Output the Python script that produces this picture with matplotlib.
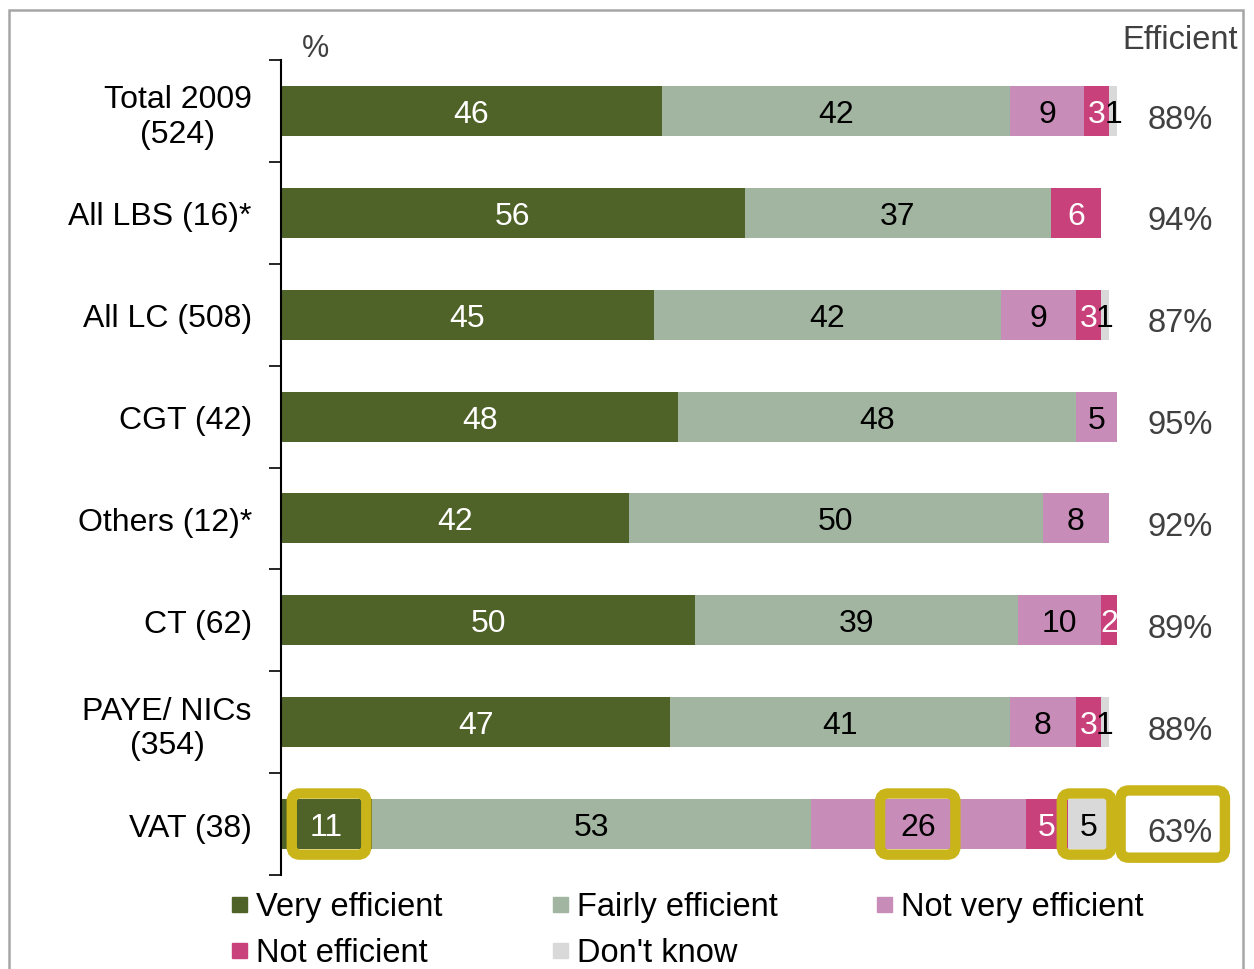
import matplotlib.pyplot as plt
from matplotlib.patches import Rectangle, FancyBboxPatch

plt.rcParams['font.family'] = ['Liberation Sans', 'DejaVu Sans']

categories = ['Total 2009\n(524)', 'All LBS (16)*', 'All LC (508)', 'CGT (42)',
              'Others (12)*', 'CT (62)', 'PAYE/ NICs\n(354)', 'VAT (38)']
very_eff = [46, 56, 45, 48, 42, 50, 47, 11]
fairly_eff = [42, 37, 42, 48, 50, 39, 41, 53]
not_very_eff = [9, 0, 9, 5, 8, 10, 8, 26]
not_eff = [3, 6, 3, 0, 0, 2, 3, 5]
dont_know = [1, 0, 1, 0, 0, 0, 1, 5]
efficient = [88, 94, 87, 95, 92, 89, 88, 63]

series = [
    ('Very efficient', very_eff, '#4F6228', 'white'),
    ('Fairly efficient', fairly_eff, '#A1B5A0', 'black'),
    ('Not very efficient', not_very_eff, '#C78CB8', 'black'),
    ('Not efficient', not_eff, '#C9417A', 'white'),
    ("Don't know", dont_know, '#D9D9D9', 'black'),
]
gold = '#C9B41A'

fig = plt.figure(figsize=(12.54, 9.70), dpi=100)
ax = fig.add_axes([281 / 1254, 1 - 876 / 970, (1109 - 281) / 1254, (876 - 61) / 970])

# outer frame
fig.add_artist(Rectangle((9 / 1254, -0.02), (1243 - 9) / 1254, 1.02 - 11 / 970,
                         transform=fig.transFigure, fill=False,
                         edgecolor='#A6A6A6', linewidth=1.8))

y = list(range(len(categories)))
left = [0] * len(categories)
for name, vals, col, tcol in series:
    ax.barh(y, vals, left=left, height=0.49, color=col, clip_on=False)
    for i, v in enumerate(vals):
        if v > 0:
            ax.text(left[i] + v / 2, i + 0.03, str(v), ha='center', va='center',
                    fontsize=23, color=tcol, clip_on=False)
    left = [a + b for a, b in zip(left, vals)]

for i, e in enumerate(efficient):
    ax.text(108.6, i + 0.08, f'{e}%', ha='center', va='center', fontsize=23.5,
            color='#404040')

ax.text(108.6, -0.7, 'Efficient', ha='center', va='center', fontsize=23.5,
        color='#404040')
ax.text(4.2, -0.62, '%', ha='center', va='center', fontsize=22, color='#404040')

# highlight boxes on the VAT row
vat = len(categories) - 1
boxes = [(5.8, 9.0, 0.6, 0.0), (76.9, 9.1, 0.6, 0.0), (97.3, 6.0, 0.6, 0.0),
         (107.7, 12.6, 0.66, 0.0)]
for cx, w, h, dy in boxes:
    ax.add_patch(FancyBboxPatch((cx - w / 2, vat - h / 2 + dy), w, h,
                                boxstyle='round,pad=0,rounding_size=1.0',
                                fill=False, edgecolor=gold, linewidth=7.5,
                                clip_on=False, zorder=5,
                                mutation_aspect=0.08))

ax.set_xlim(0, 100)
ax.set_ylim(len(categories) - 0.5, -0.5)
ax.set_yticks(y)
ax.set_yticklabels(categories, fontsize=23, multialignment='center')
ax.tick_params(axis='y', which='major', length=0, pad=21)
ax.set_yticks([i - 0.5 for i in range(len(categories) + 1)], minor=True)
ax.tick_params(axis='y', which='minor', length=9, width=1.2, direction='out')
ax.set_xticks([])
for s in ['top', 'right', 'bottom']:
    ax.spines[s].set_visible(False)
ax.spines['left'].set_linewidth(1.5)

# legend
legend_pos = [(232, 908), (553, 908), (877, 908), (232, 954), (553, 954)]
for (name, vals, col, tcol), (px, py) in zip(series, legend_pos):
    fig.add_artist(Rectangle((px / 1254, 1 - (py + 5) / 970), 15 / 1254, 15 / 970,
                             transform=fig.transFigure, color=col))
    fig.text((px + 24) / 1254, 1 - py / 970, name, ha='left', va='center',
             fontsize=23.5, color='black')

fig.savefig('out.png', dpi=100)
